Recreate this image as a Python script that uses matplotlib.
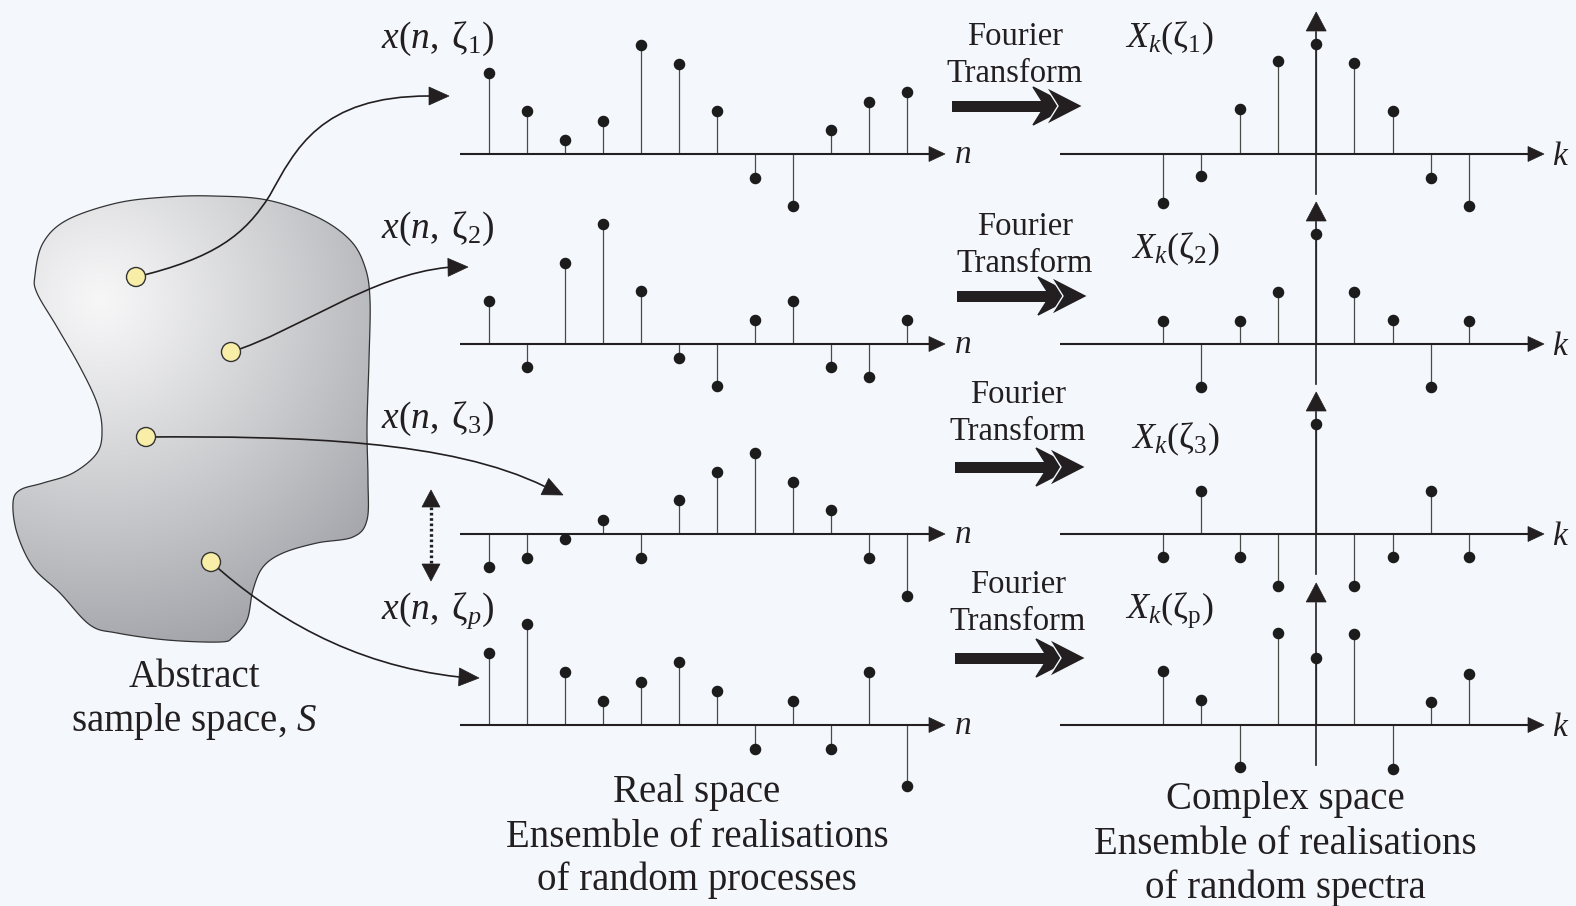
import matplotlib.pyplot as plt
import numpy as np
from matplotlib.path import Path
from matplotlib.patches import PathPatch, Polygon, Circle, Rectangle

plt.rcParams['font.family'] = ['Liberation Serif', 'DejaVu Serif']
plt.rcParams['mathtext.fontset'] = 'custom'
plt.rcParams['mathtext.rm'] = 'Liberation Serif'
plt.rcParams['mathtext.it'] = 'Liberation Serif:italic'
plt.rcParams['mathtext.bf'] = 'Liberation Serif:bold'

# realisations in real space, x(n, zeta_i), 12 samples each
x_zeta1 = [81, 43, 14, 33, 109, 90, 43, -24, -52, 24, 52, 62]
x_zeta2 = [43, -23, 81, 120, 53, -14, -42, 24, 43, -23, -33, 24]
x_zeta3 = [-33, -24, -5, 14, -24, 34, 62, 81, 52, 24, -24, -62]
x_zetap = [72, 101, 53, 24, 43, 63, 34, -24, 24, -24, 53, -61]

# spectra X_k(zeta_i), 9 bins centred on k = 0
X_zeta1 = [-49, -22, 45, 93, 110, 91, 43, -24, -52]
X_zeta2 = [23, -43, 23, 52, 110, 52, 24, -43, 23]
X_zeta3 = [-23, 43, -23, -52, 110, -52, -23, 43, -23]
X_zetap = [54, 25, -42, 92, 67, 91, -44, 23, 51]

real_rows = [x_zeta1, x_zeta2, x_zeta3, x_zetap]
spec_rows = [X_zeta1, X_zeta2, X_zeta3, X_zetap]
real_labels = [r'$x(n,\;\mathrm{\zeta}_{1})$', r'$x(n,\;\mathrm{\zeta}_{2})$',
               r'$x(n,\;\mathrm{\zeta}_{3})$', r'$x(n,\;\mathrm{\zeta}_{p})$']
spec_labels = [r'$X_{k}(\mathrm{\zeta}_{1})$', r'$X_{k}(\mathrm{\zeta}_{2})$',
               r'$X_{k}(\mathrm{\zeta}_{3})$', r'$X_{k}(\mathrm{\zeta}_{\mathrm{p}})$']

BG = '#f4f8fd'
INK = '#231f20'
STEM = '#4a4a4a'

# layout (pixels, y downwards)
row_base = [154, 344, 534, 725]
n_x0, n_step = 489, 38.0
k_x0, k_step = 1163, 38.3
spec_label_pos = [(1125, -107), (1131, -86), (1131, -86), (1125, -107)]
ft_pos = [(1015, 45, 106, 952), (1025, 235, 296, 957), (1018, 403, 467, 955), (1018, 593, 658, 955)]

fig = plt.figure(figsize=(15.76, 9.06), dpi=100)
fig.patch.set_facecolor(BG)
ax = fig.add_axes([0, 0, 1, 1])
ax.set_facecolor(BG)


def head(tip, ang, length=20, hw=9, color=INK, z=6):
    a = np.deg2rad(ang)
    d = np.array([np.cos(a), np.sin(a)])
    p = np.array([-d[1], d[0]])
    tip = np.asarray(tip, float)
    back = tip - length * d
    ax.add_patch(Polygon([tip, back + hw * p, back - hw * p], closed=True,
                         fc=color, ec=color, lw=0.5, zorder=z))
    return back


def axis_arrow(x0, x1, y, lw=1.5):
    back = head((x1, y), 0, length=16, hw=7.5)
    ax.plot([x0, back[0] + 1], [y, y], color=INK, lw=lw, zorder=3, solid_capstyle='butt')


def curve(pts, tip, ang):
    back = head(tip, ang)
    pts = list(pts) + [tuple(back)]
    codes = [Path.MOVETO] + [Path.CURVE4] * (len(pts) - 1)
    ax.add_patch(PathPatch(Path(pts, codes), fc='none', ec=INK, lw=1.2, zorder=5))


def closed_spline(pts, n=16):
    pts = np.asarray(pts, float)
    m = len(pts)
    out = []
    for i in range(m):
        p0, p1, p2, p3 = pts[i - 1], pts[i], pts[(i + 1) % m], pts[(i + 2) % m]
        for t in np.linspace(0, 1, n, endpoint=False):
            t2, t3 = t * t, t * t * t
            out.append(0.5 * ((2 * p1) + (-p0 + p2) * t + (2 * p0 - 5 * p1 + 4 * p2 - p3) * t2
                              + (-p0 + 3 * p1 - 3 * p2 + p3) * t3))
    return np.array(out)


# abstract sample space blob
blob_pts = [(35, 275), (43, 243), (67, 220), (117, 203), (167, 197), (213, 196), (267, 200),
            (317, 217), (350, 240), (365, 267), (370, 300), (369, 360), (367, 427), (368, 480),
            (367, 520), (353, 537), (317, 543), (283, 553), (263, 567), (253, 590), (247, 620),
            (233, 637), (220, 642), (167, 640), (117, 633), (90, 625), (60, 593), (33, 567),
            (17, 533), (13, 503), (20, 490), (43, 483), (73, 473), (97, 453), (102, 430),
            (97, 403), (80, 367), (57, 327), (37, 293)]
outline = closed_spline(blob_pts)
blob = PathPatch(Path(np.vstack([outline, outline[:1]]), closed=True), fc='none',
                 ec='#333333', lw=0.9, zorder=2)
ax.add_patch(blob)
gx, gy = np.meshgrid(np.linspace(0, 380, 381), np.linspace(190, 650, 461))
t = np.clip(np.hypot(gx - 100, gy - 300) / 370, 0, 1) ** 1.1
light = np.array([0.968, 0.968, 0.972])
dark = np.array([0.63, 0.635, 0.655])
img = light + (dark - light) * t[..., None]
im = ax.imshow(img, extent=(0, 380, 650, 190), origin='upper', zorder=1, interpolation='bilinear')
im.set_clip_path(blob)

# sample points and their mapping curves
dots = [(136, 277), (231, 352), (146, 437), (211, 562)]
curve([(136, 277), (215, 258), (245, 235), (270, 195), (295, 150), (320, 96)], (449, 96), 0)
curve([(231, 352), (300, 330), (370, 275)], (468, 267), -1)
curve([(146, 437), (300, 436), (450, 440)], (563, 495), 25)
curve([(211, 562), (270, 615), (350, 665)], (479, 678), 3)
for cx, cy in dots:
    ax.add_patch(Circle((cx, cy), 9.5, fc='#f8eea8', ec='#333333', lw=1.0, zorder=7))

# dotted double arrow between realisations
b1 = head((431, 490), -90, length=17, hw=9)
b2 = head((431, 581), 90, length=17, hw=9)
ax.plot([431, 431], [b1[1], b2[1]], color=INK, lw=2.4, ls=(0, (0.8, 0.8)), zorder=5)

# real-space stem rows
for base, vals, lab in zip(row_base, real_rows, real_labels):
    xs = n_x0 + n_step * np.arange(len(vals))
    ys = base - np.array(vals)
    axis_arrow(460, 945, base)
    ax.vlines(xs, base, ys, color=STEM, lw=0.9, zorder=2)
    ax.plot(xs, ys, 'o', ms=7.3, color='#1c1c1c', zorder=4)
    ax.text(963, base + 9, r'$n$', fontsize=24, color=INK, ha='center', va='baseline')
    ax.text(381, base - 106, lab, fontsize=27, color=INK, ha='left', va='baseline')

# spectra stem rows
kc = k_x0 + 4 * k_step
for base, vals, lab, (lx, ly) in zip(row_base, spec_rows, spec_labels, spec_label_pos):
    xs = k_x0 + k_step * np.arange(len(vals))
    ys = base - np.array(vals)
    axis_arrow(1060, 1544, base)
    vb = head((kc, base - 142), -90, length=19, hw=10)
    ax.plot([kc, kc], [base + 40, vb[1] + 1], color=INK, lw=1.2, zorder=3)
    ax.vlines(xs, base, ys, color=STEM, lw=0.9, zorder=2)
    ax.plot(xs, ys, 'o', ms=7.3, color='#1c1c1c', zorder=4)
    ax.text(1561, base + 11, r'$k$', fontsize=24, color=INK, ha='center', va='baseline')
    ax.text(lx, base + ly, lab, fontsize=26, color=INK, ha='left', va='baseline')

# Fourier transform arrows
for cx, ty, ay, x0 in ft_pos:
    ax.text(cx, ty, 'Fourier', fontsize=23.5, color=INK, ha='center', va='baseline')
    ax.text(cx, ty + 37, 'Transform', fontsize=23.5, color=INK, ha='center', va='baseline')
    xe = x0 + 131
    ax.add_patch(Rectangle((x0, ay - 5.5), xe - 30 - x0, 11, fc=INK, ec='none', zorder=3))
    for xt, ec in [(xe - 13, INK), (xe, BG)]:
        ax.add_patch(Polygon([(xt, ay), (xt - 37, ay - 19), (xt - 25, ay), (xt - 37, ay + 19)],
                             closed=True, fc=INK, ec=ec, lw=1.0, zorder=4))

# captions
ax.text(194, 687, 'Abstract', fontsize=28, color=INK, ha='center', va='baseline')
ax.text(194, 731, r'sample space, $S$', fontsize=28, color=INK, ha='center', va='baseline')
for y, s in zip([802, 847, 890], ['Real space', 'Ensemble of realisations', 'of random processes']):
    ax.text(697, y, s, fontsize=28, color=INK, ha='center', va='baseline')
for y, s in zip([809, 854, 898], ['Complex space', 'Ensemble of realisations', 'of random spectra']):
    ax.text(1285, y, s, fontsize=28, color=INK, ha='center', va='baseline')

ax.set_aspect('auto')
ax.set_xlim(0, 1576)
ax.set_ylim(906, 0)
ax.axis('off')
fig.savefig('out.png', dpi=100, facecolor=BG)
plt.close(fig)
